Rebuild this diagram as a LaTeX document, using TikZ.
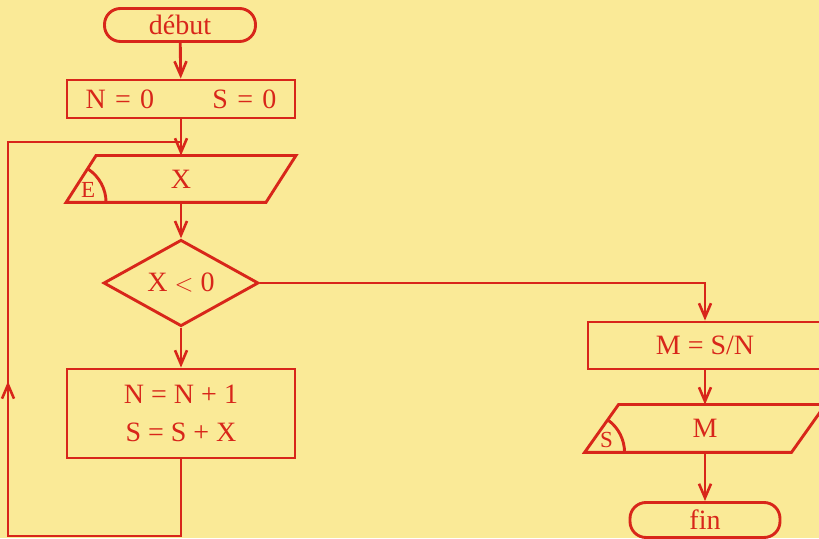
\documentclass[tikz,border=0pt]{standalone}
\usepackage{fontspec}
\setmainfont{Liberation Serif}
\usetikzlibrary{arrows.meta, positioning, shapes.geometric, decorations.markings}
\definecolor{fgred}{HTML}{D8261A}
\definecolor{fgpaper}{HTML}{FAEA97}

\begin{document}
\begin{tikzpicture}[x=1pt, y=1pt,
  color=fgred, line width=2.9pt,
  every node/.style={font=\fontsize{28}{38}\selectfont},
  flow/.style={-{Straight Barb[length=14pt, width=12pt, line width=2.6pt]}},
  term/.style={rectangle, rounded corners=16pt, draw, minimum width=151pt, minimum height=33pt, inner sep=0pt},
  proc/.style={rectangle, draw, minimum width=228pt, minimum height=38pt, inner sep=0pt},
  io/.style={rectangle, minimum width=197pt, minimum height=44pt, inner sep=0pt},
  test/.style={diamond, draw, minimum width=155pt, minimum height=82pt, inner sep=0pt},
  tag/.style={font=\fontsize{23}{25}\selectfont, inner sep=0pt},
]
\fill[fgpaper] (0,0) rectangle (819,538);
\useasboundingbox (0,0) rectangle (819,538);

% left column
\node[term] (debut) at (180,513) {début};
\node[proc, text width=191pt] (init) at (181,439) {N = 0\hfill S = 0};
\node[io] (inx) at (181,359) {X};
\node[test] (test) at (181,255) {X $<$ 0};
\node[proc, minimum height=89pt, align=center] (cumul) at (181,124.5) {N = N + 1\\S = S + X};

% right column
\node[proc, minimum width=234pt, minimum height=47pt] (moy) at (705,192.5) {M = S/N};
\node[io, minimum width=204pt, minimum height=45pt] (outm) at (705,109.5) {M};
\node[term, minimum width=150pt, minimum height=35pt] (fin) at (705,18) {fin};

% slanted input / output boxes
\draw ([xshift=15pt]inx.north west) -- ([xshift=15pt]inx.north east)
  -- ([xshift=-15pt]inx.south east) -- ([xshift=-15pt]inx.south west) -- cycle;
\draw ([xshift=25pt]inx.south west) arc[start angle=0, end angle=56, radius=40pt];
\node[tag] (etag) at ([shift={(7pt,12pt)}]inx.south west) {E};
\draw ([xshift=17pt]outm.north west) -- ([xshift=17pt]outm.north east)
  -- ([xshift=-17pt]outm.south east) -- ([xshift=-17pt]outm.south west) -- cycle;
\draw ([xshift=23pt]outm.south west) arc[start angle=0, end angle=53, radius=40pt];
\node[tag] (stag) at ([shift={(5pt,12pt)}]outm.south west) {S};

\draw[flow] (debut) -- (init);
\draw[flow] (init) -- (inx);
\draw[flow] (inx) -- (test);
\draw[flow] (test) -- (cumul);
\draw[flow] (test.east) -| (moy.north);
\draw[flow] (moy) -- (outm);
\draw[flow] (outm) -- (fin);

% loop back
\coordinate (ret) at (8,2);
\coordinate (merge) at (181,396);
\draw[postaction={decorate}, decoration={markings, mark=at position 0.495 with {\arrow{Straight Barb[length=14pt, width=12pt, line width=2.6pt]}}}]
  (cumul.south) |- (ret) |- (merge);
\end{tikzpicture}
\end{document}
